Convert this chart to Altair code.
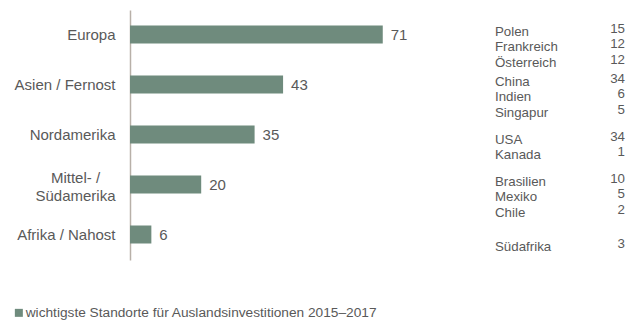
import altair as alt
import pandas as pd

regions = ["Europa", "Asien / Fernost", "Nordamerika", "Mittel- / Südamerika", "Afrika / Nahost"]
totals = [71, 43, 35, 20, 6]

countries = ["Polen", "Frankreich", "Österreich", "China", "Indien", "Singapur",
             "USA", "Kanada", "Brasilien", "Mexiko", "Chile", "Südafrika"]
country_values = [15, 12, 12, 34, 6, 5, 34, 1, 10, 5, 2, 3]
country_region = ["Europa", "Europa", "Europa",
                  "Asien / Fernost", "Asien / Fernost", "Asien / Fernost",
                  "Nordamerika", "Nordamerika",
                  "Mittel- / Südamerika", "Mittel- / Südamerika", "Mittel- / Südamerika",
                  "Afrika / Nahost"]

series_name = "wichtigste Standorte für Auslandsinvestitionen 2015–2017"

bars_df = pd.DataFrame({"region": regions, "value": totals, "serie": series_name})
tab_df = pd.DataFrame({"land": countries, "wert": country_values, "region": country_region})
tab_df["idx"] = tab_df.groupby("region").cumcount()
tab_df["n"] = tab_df.groupby("region")["land"].transform("count")
# row offset (in lines) from the band start: groups centred a little below the bar
tab_df["row"] = tab_df["idx"] - (tab_df["n"] - 1) / 2 + 1.41

FONT = "Liberation Sans"
GRAY = "#595959"
GREEN = "#6f8b7d"

IS_MULTI = "indexof(datum.label, 'Mittel') == 0"

yenc = alt.Y(
    "region:N", sort=regions, title=None,
    scale=alt.Scale(paddingInner=0.62, paddingOuter=0.31),
    axis=alt.Axis(
        domainColor="#b8b0a8", domainWidth=1.5, ticks=False, grid=False,
        labelFont=FONT, labelFontSize=15, labelColor=GRAY,
        labelPadding={"condition": {"test": IS_MULTI, "value": 55}, "value": 15},
        labelAlign={"condition": {"test": IS_MULTI, "value": "center"}, "value": "right"},
        labelLineHeight=18,
        labelOffset={"condition": {"test": IS_MULTI, "value": -7.5}, "value": 0},
        labelExpr=IS_MULTI + " ? ['Mittel- /', 'Südamerika'] : datum.label",
    ),
)

xenc = alt.X("value:Q", title=None, scale=alt.Scale(domain=[0, 100]), axis=None)

bars = alt.Chart(bars_df).mark_bar(color=GREEN).encode(
    y=yenc, x=xenc,
    color=alt.Color("serie:N", scale=alt.Scale(range=[GREEN]),
                    legend=alt.Legend(orient="none", legendX=-118, legendY=296, title=None,
                                      symbolType="square", symbolSize=64, symbolStrokeWidth=0,
                                      labelFont=FONT, labelFontSize=13.7, labelColor=GRAY,
                                      labelOffset=0, labelLimit=600)),
)

bar_labels = alt.Chart(bars_df).mark_text(
    align="left", baseline="middle", dx=8, font=FONT, fontSize=15, color=GRAY
).encode(y=alt.Y("region:N", sort=regions), x=alt.X("value:Q"), text="value:Q")

offset = alt.YOffset("row:Q", scale=alt.Scale(domain=[0, 1], range=[0, 15.6]))

names = alt.Chart(tab_df).mark_text(
    align="left", baseline="middle", dy=0, font=FONT, fontSize=13.3, color=GRAY
).encode(y=alt.Y("region:N", sort=regions), yOffset=offset, x=alt.value(365), text="land:N")

vals = alt.Chart(tab_df).mark_text(
    align="right", baseline="middle", dy=-3, font=FONT, fontSize=13.3, color=GRAY
).encode(y=alt.Y("region:N", sort=regions), yOffset=offset, x=alt.value(495), text="wert:Q")

chart = alt.layer(bars, bar_labels, names, vals).properties(
    width=356, height=250,
    background="white",
    autosize=alt.AutoSizeParams(type="none"),
    padding={"left": 130, "top": 10, "right": 151, "bottom": 60},
).configure_view(stroke=None)

chart.save("out.html", embed_options={"renderer": "svg", "actions": False})
